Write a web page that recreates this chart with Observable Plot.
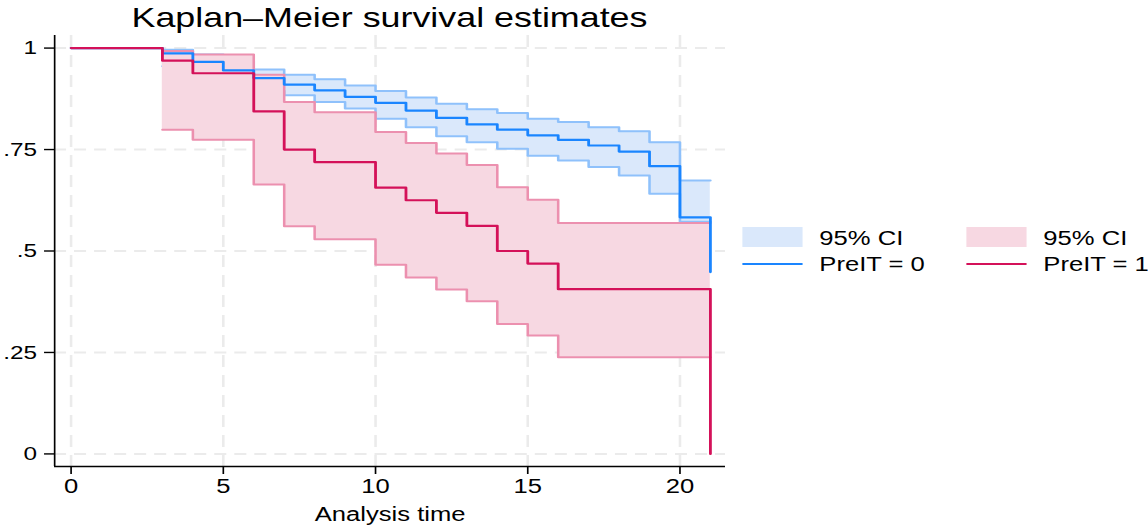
<!DOCTYPE html>
<html><head><meta charset="utf-8">
<script src="https://cdn.jsdelivr.net/npm/d3@7"></script>
<script src="https://cdn.jsdelivr.net/npm/@observablehq/plot@0.6"></script>
<style>
html,body{margin:0;padding:0;background:#fff;overflow:hidden;}
#wrap{position:relative;width:897px;height:525px;transform:scaleX(1.28);transform-origin:0 0;font-family:"Liberation Sans",Arial,sans-serif;}
#title{position:absolute;left:42.2px;width:524.2px;top:3.5px;text-align:center;font-size:28px;line-height:28px;color:#000;white-space:nowrap;}
.lg{position:absolute;font-size:20px;line-height:20px;color:#000;white-space:nowrap;}
.sw{position:absolute;}
#chart{position:absolute;left:0;top:0;}
</style></head><body>
<div id="wrap"><div id="title">Kaplan–Meier survival estimates</div><div id="chart"></div></div>
<script>
// ---- data ----
const timesBlue = [0, 3, 4, 5, 6, 7, 8, 9, 10, 11, 12, 13, 14, 15, 16, 17, 18, 19, 20, 21];
const survBlue  = [1, 0.987, 0.966, 0.945, 0.926, 0.910, 0.896, 0.880, 0.865, 0.846, 0.828, 0.812, 0.799, 0.785, 0.774, 0.760, 0.745, 0.709, 0.583, 0.448];
const ciTimesBlue = [3, 4, 5, 6, 7, 8, 9, 10, 11, 12, 13, 14, 15, 16, 17, 18, 19, 20, 21];
const upperBlue = [0.996, 0.984, 0.970, 0.947, 0.934, 0.923, 0.908, 0.894, 0.878, 0.863, 0.849, 0.840, 0.826, 0.818, 0.805, 0.795, 0.768, 0.674, 0.674];
const lowerBlue = [0.955, 0.935, 0.912, 0.895, 0.884, 0.867, 0.851, 0.826, 0.805, 0.783, 0.768, 0.752, 0.735, 0.723, 0.707, 0.686, 0.641, 0.572, 0.572];

const timesRed = [0, 3, 4, 6, 7, 8, 10, 11, 12, 13, 14, 15, 16, 21];
const survRed  = [1, 0.969, 0.938, 0.844, 0.750, 0.719, 0.656, 0.625, 0.594, 0.562, 0.500, 0.469, 0.406, 0];
const ciTimesRed = [3, 4, 6, 7, 8, 10, 11, 12, 13, 14, 15, 16, 21];
const upperRed = [0.993, 0.984, 0.934, 0.867, 0.842, 0.793, 0.766, 0.740, 0.712, 0.657, 0.626, 0.569, 0.569];
const lowerRed = [0.799, 0.774, 0.664, 0.561, 0.529, 0.466, 0.435, 0.405, 0.376, 0.320, 0.292, 0.238, 0.238];

const xTicks = [0, 5, 10, 15, 20];
const xTickLabels = ["0", "5", "10", "15", "20"];
const yTicks = [0, 0.25, 0.5, 0.75, 1];
const yTickLabels = ["0", ".25", ".5", ".75", "1"];

const seriesNames = ["PreIT = 0", "PreIT = 1"];
const ciLabel = "95% CI";
const xLabel = "Analysis time";

// ---- build tables ----
const blue = timesBlue.map((t, i) => ({t, s: survBlue[i]}));
const red = timesRed.map((t, i) => ({t, s: survRed[i]}));
const blueCI = ciTimesBlue.map((t, i) => ({t, hi: upperBlue[i], lo: lowerBlue[i]}));
const redCI = ciTimesRed.map((t, i) => ({t, hi: upperRed[i], lo: lowerRed[i]}));

const W = 897, H = 525;
const xDom = [-0.54, 21.5], yDom = [-0.031, 1.031];
const cBlue = "#1a85ff", cRed = "#d41159";
const fBlue = "#dae8fb", fRed = "#f7d8e2";
const oBlue = "#8fc1fb", oRed = "#ec90af";
const gridStyle = {stroke: "#ebebeb", strokeOpacity: 1, strokeWidth: 2};

const chart = Plot.plot({
  width: W, height: H,
  marginLeft: 42.2, marginRight: W - 566.4, marginTop: 35, marginBottom: H - 466,
  style: {fontFamily: "Liberation Sans, Arial, sans-serif", background: "transparent", color: "#000"},
  x: {domain: xDom},
  y: {domain: yDom},
  marks: [
    Plot.gridX(xTicks, {...gridStyle, strokeDasharray: "12,8"}),
    Plot.gridY(yTicks, {...gridStyle, strokeDasharray: "9.4,6.25"}),
    Plot.areaY(blueCI, {x: "t", y1: "lo", y2: "hi", curve: "step-after", fill: fBlue}),
    Plot.line(blueCI, {x: "t", y: "hi", curve: "step-after", stroke: oBlue, strokeWidth: 2}),
    Plot.line(blueCI, {x: "t", y: "lo", curve: "step-after", stroke: oBlue, strokeWidth: 2}),
    Plot.areaY(redCI, {x: "t", y1: "lo", y2: "hi", curve: "step-after", fill: fRed}),
    Plot.line(redCI, {x: "t", y: "hi", curve: "step-after", stroke: oRed, strokeWidth: 2}),
    Plot.line(redCI, {x: "t", y: "lo", curve: "step-after", stroke: oRed, strokeWidth: 2}),
    Plot.line(blue, {x: "t", y: "s", curve: "step-after", stroke: cBlue, strokeWidth: 2.2}),
    Plot.line(red, {x: "t", y: "s", curve: "step-after", stroke: cRed, strokeWidth: 2.2}),
    Plot.ruleX([xDom[0]], {stroke: "#000", strokeWidth: 1.3}),
    Plot.ruleY([yDom[0]], {stroke: "#000", strokeWidth: 1.4}),
    Plot.axisX(xTicks, {tickSize: 8, tickPadding: 4, fontSize: 20, label: null, strokeWidth: 1.3,
      tickFormat: d => xTickLabels[xTicks.indexOf(d)]}),
    Plot.axisY(yTicks, {tickSize: 7.8, tickPadding: 6, fontSize: 19, label: null, strokeWidth: 1.4,
      tickFormat: d => yTickLabels[yTicks.indexOf(d)]}),
    Plot.text([xLabel], {frameAnchor: "bottom", lineAnchor: "middle", dy: 48, fontSize: 20, fill: "#000"})
  ]
});
document.getElementById("chart").appendChild(chart);

// ---- legend ----
const wrap = document.getElementById("wrap");
function add(cls, css, text) {
  const d = document.createElement("div");
  d.className = cls;
  Object.assign(d.style, css);
  if (text != null) d.textContent = text;
  wrap.appendChild(d);
}
const cols = [{sw: 580.2, tx: 640.1, fill: fBlue, line: cBlue, name: seriesNames[0]},
              {sw: 755.2, tx: 815.1, fill: fRed, line: cRed, name: seriesNames[1]}];
for (const c of cols) {
  add("sw", {left: c.sw + "px", top: "226.7px", width: "46.9px", height: "20px", background: c.fill});
  add("lg", {left: c.tx + "px", top: "227.5px"}, ciLabel);
  add("sw", {left: c.sw + "px", top: "263.2px", width: "46.9px", height: "2px", background: c.line});
  add("lg", {left: c.tx + "px", top: "254px"}, c.name);
}
</script>
</body></html>
